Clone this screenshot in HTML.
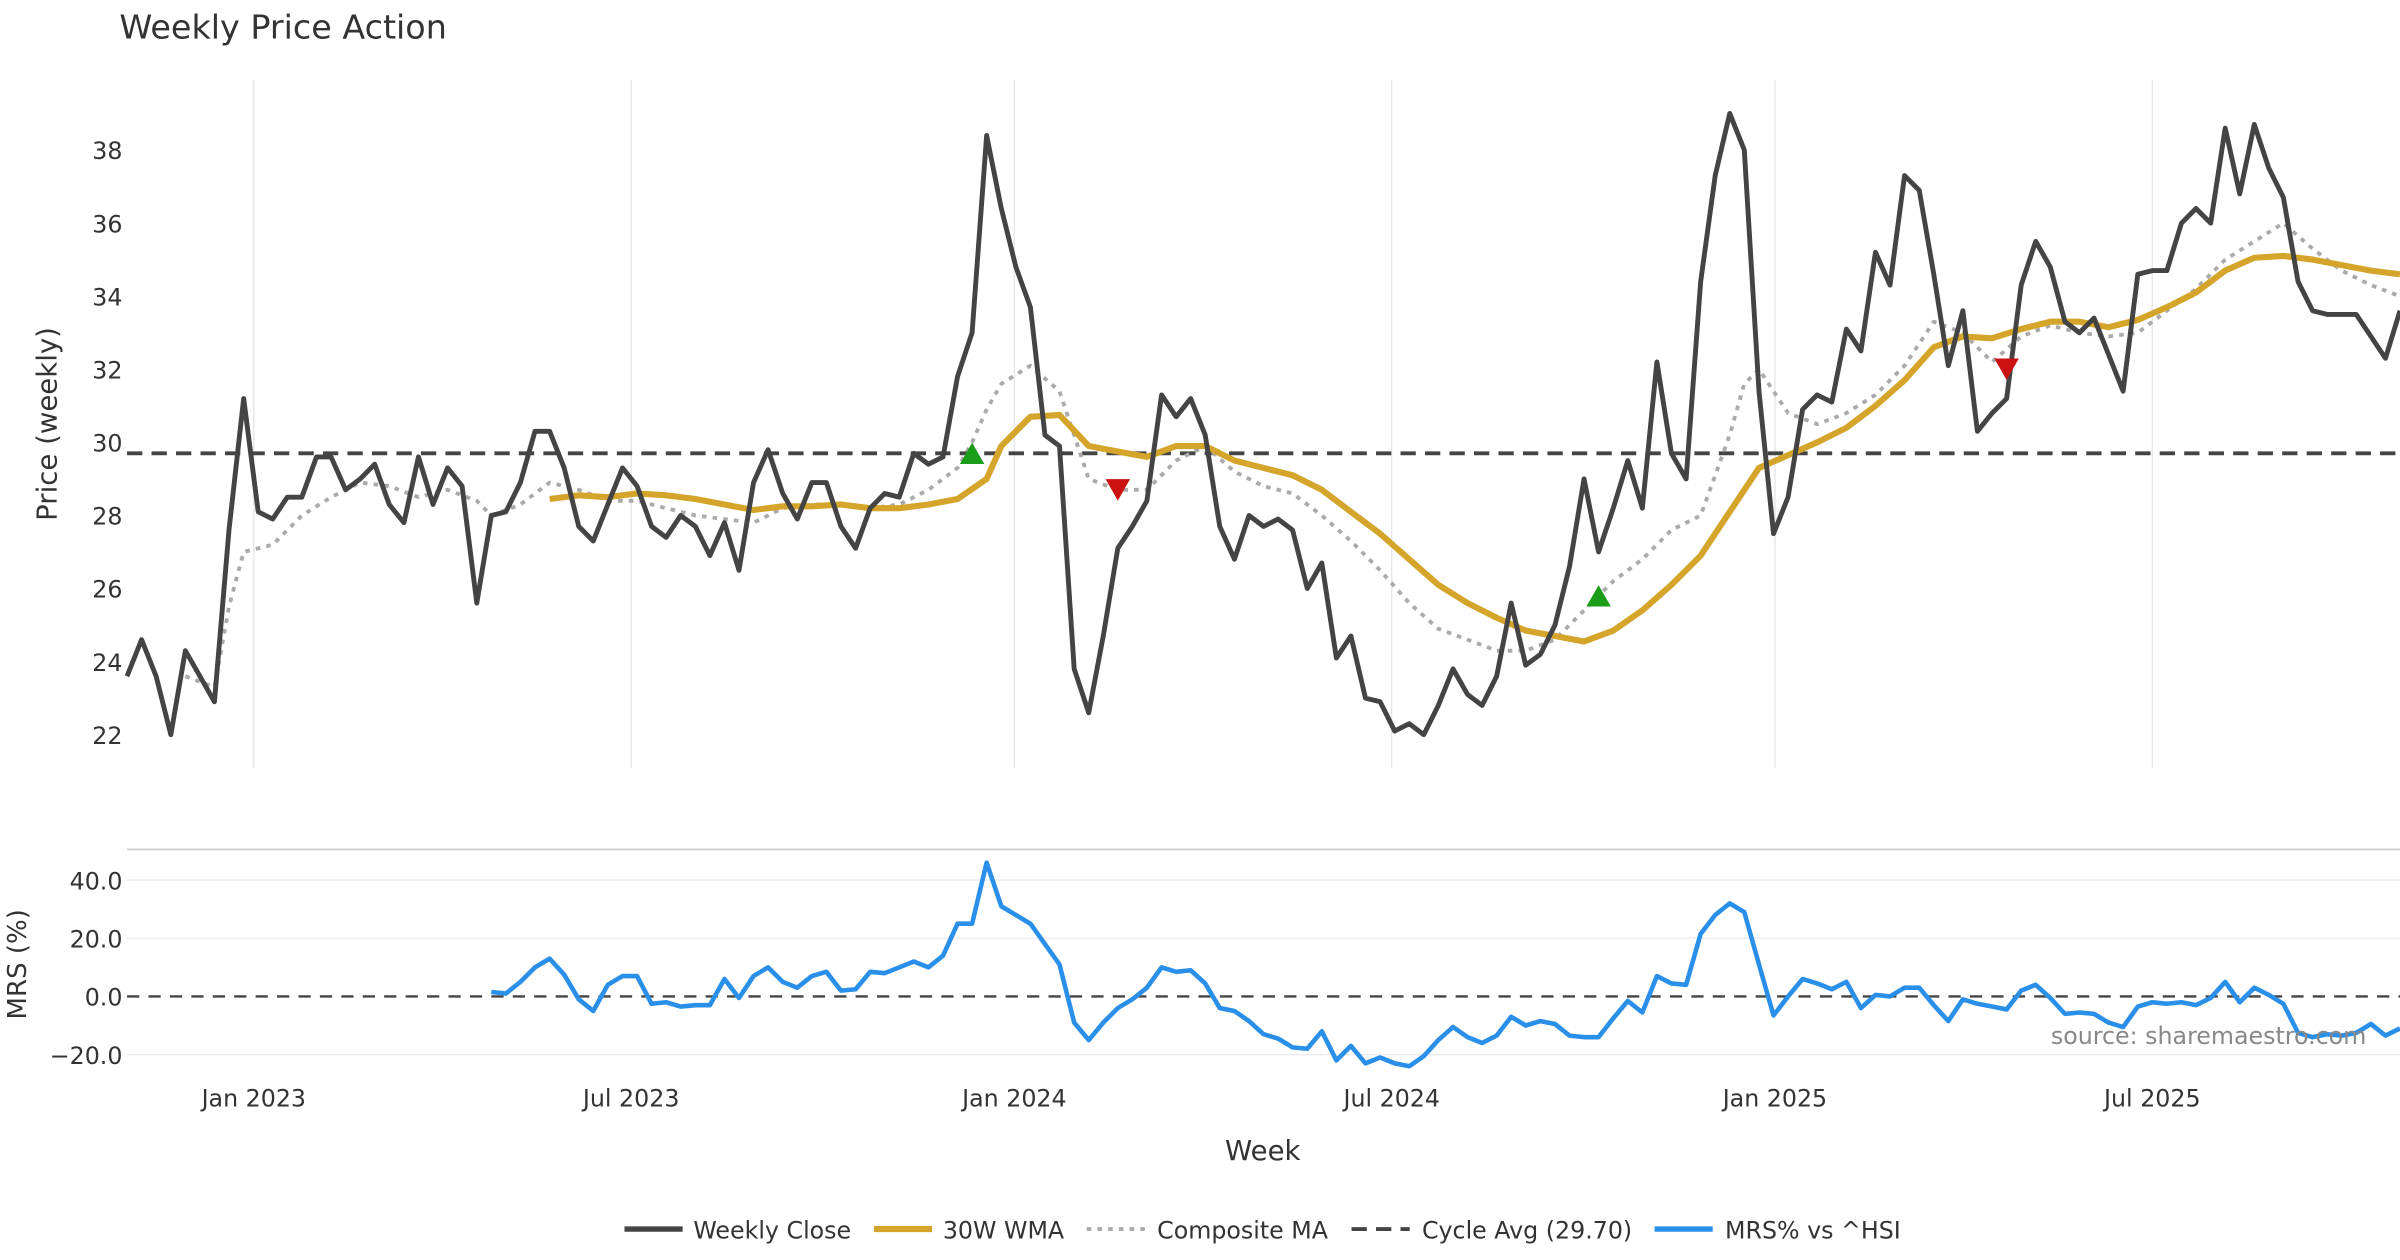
<!DOCTYPE html>
<html><head><meta charset="utf-8"><style>
html,body{margin:0;padding:0;background:#fff;}
svg{display:block;font-family:"DejaVu Sans","Liberation Sans",sans-serif;}
</style></head><body>
<svg id="chart" width="2400" height="1260" viewBox="0 0 1568 823.2" xmlns="http://www.w3.org/2000/svg">
<rect x="0" y="0" width="1568" height="823.2" fill="#fff"/>
<text x="78" y="25" font-size="21.8" fill="#333">Weekly Price Action</text>
<g id="top-grid"></g>
<g id="top-yticks"></g>
<text transform="translate(37,277) rotate(-90)" text-anchor="middle" font-size="18" fill="#333">Price (weekly)</text>
<line x1="83" y1="555" x2="1568" y2="555" stroke="#ccc" stroke-width="1.2"/>
<g id="bot-grid"></g>
<text transform="translate(17,630) rotate(-90)" text-anchor="middle" font-size="17" fill="#333">MRS (%)</text>
<g id="xticks"></g>
<text x="825" y="758" text-anchor="middle" font-size="18" fill="#333">Week</text>
<g id="series"></g>
<text x="1546" y="682" text-anchor="end" font-size="15.5" fill="#888">source: sharemaestro.com</text>
<g id="legend">
<line x1="408" y1="803" x2="446" y2="803" stroke="#444" stroke-width="3.5"/>
<text x="453" y="809" font-size="15.5" fill="#333">Weekly Close</text>
<line x1="571" y1="803" x2="609" y2="803" stroke="#d4a52a" stroke-width="4"/>
<text x="616" y="809" font-size="15.5" fill="#333">30W WMA</text>
<line x1="710" y1="803" x2="748" y2="803" stroke="#aaa" stroke-width="2.5" stroke-dasharray="3,4"/>
<text x="756" y="809" font-size="15.5" fill="#333">Composite MA</text>
<line x1="883" y1="803" x2="921" y2="803" stroke="#444" stroke-width="2.5" stroke-dasharray="10,6"/>
<text x="929" y="809" font-size="15.5" fill="#333">Cycle Avg (29.70)</text>
<line x1="1081" y1="803" x2="1119" y2="803" stroke="#2a8fe8" stroke-width="3.5"/>
<text x="1127" y="809" font-size="15.5" fill="#333">MRS% vs ^HSI</text>
</g>
</svg>
<script>
const closeVals=[23.6,24.6,23.6,22.0,24.3,23.6,22.9,27.6,31.2,28.1,27.9,28.5,28.5,29.6,29.6,28.7,29.0,29.4,28.3,27.8,29.6,28.3,29.3,28.8,25.6,28.0,28.1,28.9,30.3,30.3,29.3,27.7,27.3,28.3,29.3,28.8,27.7,27.4,28.0,27.7,26.9,27.8,26.5,28.9,29.8,28.6,27.9,28.9,28.9,27.7,27.1,28.2,28.6,28.5,29.7,29.4,29.6,31.8,33.0,38.4,36.4,34.8,33.7,30.2,29.9,23.8,22.6,24.7,27.1,27.7,28.4,31.3,30.7,31.2,30.2,27.7,26.8,28.0,27.7,27.9,27.6,26.0,26.7,24.1,24.7,23.0,22.9,22.1,22.3,22.0,22.8,23.8,23.1,22.8,23.6,25.6,23.9,24.2,25.0,26.6,29.0,27.0,28.2,29.5,28.2,32.2,29.7,29.0,34.4,37.3,39.0,38.0,31.4,27.5,28.5,30.9,31.3,31.1,33.1,32.5,35.2,34.3,37.3,36.9,34.6,32.1,33.6,30.3,30.8,31.2,34.3,35.5,34.8,33.3,33.0,33.4,32.4,31.4,34.6,34.7,34.7,36.0,36.4,36.0,38.6,36.8,38.7,37.5,36.7,34.4,33.6,33.5,33.5,33.5,32.9,32.3,33.6];
const wmaIdx=[29,31,33,35,37,39,41,43,45,47,49,51,53,55,57,59,60,62,64,66,68,70,72,74,76,78,80,82,84,86,88,90,92,94,96,98,100,102,104,106,108,110,112,114,116,118,120,122,124,126,128,130,132,134,136,138,140,142,144,146,148,150,152,154,156];
const wmaVals=[28.45,28.55,28.5,28.6,28.55,28.45,28.3,28.15,28.25,28.25,28.3,28.2,28.2,28.3,28.45,29.0,29.9,30.7,30.75,29.9,29.75,29.6,29.9,29.9,29.5,29.3,29.1,28.7,28.1,27.5,26.8,26.1,25.6,25.2,24.85,24.7,24.55,24.85,25.4,26.1,26.9,28.1,29.3,29.65,30.0,30.4,31.0,31.7,32.6,32.9,32.85,33.1,33.3,33.3,33.15,33.35,33.7,34.1,34.7,35.05,35.1,35.0,34.85,34.7,34.6];
const compIdx=[4,6,7,8,10,12,14,16,18,20,22,24,25,27,29,31,33,35,37,39,41,43,45,47,49,51,53,55,57,58,59,60,62,64,66,68,70,72,74,76,78,80,82,84,86,88,90,92,94,96,98,100,102,104,106,108,110,111,112,114,116,118,120,122,124,126,128,130,132,134,136,138,140,142,144,146,148,150,152,154,156];
const compVals=[23.6,23.3,25.5,27.0,27.2,28.0,28.5,28.9,28.8,28.5,28.7,28.4,28.0,28.3,28.9,28.7,28.4,28.4,28.2,28.0,27.9,27.8,28.2,28.3,28.3,28.2,28.3,28.7,29.3,30.0,30.9,31.6,32.1,31.4,29.0,28.7,28.7,29.5,29.9,29.2,28.8,28.6,28.0,27.3,26.5,25.6,24.9,24.6,24.3,24.3,24.6,25.4,26.2,26.8,27.6,28.0,30.2,31.6,32.0,30.8,30.5,30.8,31.3,32.1,33.3,33.0,32.2,32.9,33.2,33.0,32.9,33.0,33.6,34.2,35.0,35.5,36.0,35.3,34.7,34.3,34.0];
const mrsStart=25;
const mrsVals=[1.5,1.0,5,10,13,7.5,-1,-5,4,7,7,-2.5,-2,-3.5,-3,-3,6,-0.5,7,10,5,3,7,8.5,2,2.5,8.5,8,10,12,10,14,25,25,46,31,28,25,18,11,-9,-15,-9,-4,-1,3,10,8.5,9,4.5,-4,-5,-8.5,-13,-14.5,-17.5,-18,-12,-22,-17,-23,-21,-23,-24,-20.5,-15,-10.5,-14,-16,-13.5,-7,-10,-8.5,-9.5,-13.5,-14,-14,-7.5,-1.5,-5.5,7,4.5,4,21.5,28,32,29,11,-6.5,0,6,4.5,2.5,5,-4,0.5,0,3,3,-3,-8.5,-1,-2.5,-3.5,-4.5,2,4,-0.5,-6,-5.5,-6,-9,-10.5,-3.5,-2,-2.5,-2,-3,-0.5,5,-2,3,0.5,-2.5,-12.5,-14,-13,-13.5,-12.5,-9.5,-13.5,-11];
const buyIdx=[58,101];
const buyVals=[29.7,25.8];
const sellIdx=[68,129];
const sellVals=[28.7,32.0];
const cycleAvg=29.70;
const priceTicks=[22,24,26,28,30,32,34,36,38];
const mrsTicks=[40,20,0,-20];
const mrsTickLabels=["40.0","20.0","0.0","\u221220.0"];
const dateTicks=["Jan 2023","Jul 2023","Jan 2024","Jul 2024","Jan 2025","Jul 2025"];
const dateTickWeeks=[8.7,34.6,60.9,86.8,113.1,139.0];

const NS="http://www.w3.org/2000/svg";
const X0=83,X1=1568,N=closeVals.length;
const xs=i=>X0+i*(X1-X0)/(N-1);
const yp=v=>480-(v-22)*23.875;
const ym=v=>651-v*1.9;
function mk(tag,attrs,parent){const e=document.createElementNS(NS,tag);for(const k in attrs)e.setAttribute(k,attrs[k]);parent.appendChild(e);return e;}
const G=id=>document.getElementById(id);

dateTickWeeks.forEach((w,k)=>{
  const l=mk('line',{x1:xs(w),x2:xs(w),y1:52,y2:502,stroke:'#e8e8ec','stroke-width':1},G('top-grid'));
  
  
  const t=mk('text',{x:xs(w),y:723,'text-anchor':'middle','font-size':15.5,fill:'#333'},G('xticks'));
  t.textContent=dateTicks[k];
  
  
});
priceTicks.forEach(v=>{
  const t=mk('text',{x:80,y:yp(v)+6,'text-anchor':'end','font-size':15.5,fill:'#333'},G('top-yticks'));
  t.textContent=v;
  
  
});
mrsTicks.forEach((v,k)=>{
  if(v!==0){const l=mk('line',{x1:X0,x2:X1,y1:ym(v),y2:ym(v),stroke:'#ececf0','stroke-width':1},G('bot-grid'));
  
  }
  const t=mk('text',{x:80,y:ym(v)+6,'text-anchor':'end','font-size':15.5,fill:'#333'},G('bot-grid'));
  t.textContent=mrsTickLabels[k];
  
  
});
const zl=mk('line',{x1:X0,x2:X1,y1:ym(0),y2:ym(0),stroke:'#444','stroke-width':1.5,'stroke-dasharray':'8,6'},G('bot-grid'));



const S=G('series');
const ca=mk('line',{x1:X0,x2:X1,y1:yp(cycleAvg),y2:yp(cycleAvg),stroke:'#444','stroke-width':2.5,'stroke-dasharray':'10,6'},S);


function poly(pts,attrs){return mk('polyline',Object.assign({points:pts.map(p=>p[0].toFixed(1)+','+p[1].toFixed(1)).join(' '),fill:'none','stroke-linejoin':'round'},attrs),S);}
const cm=poly(compIdx.map((i,k)=>[xs(i),yp(compVals[k])]),{stroke:'#aaa','stroke-width':2.5,'stroke-dasharray':'3,4'});


const wm=poly(wmaIdx.map((i,k)=>[xs(i),yp(wmaVals[k])]),{stroke:'#d4a52a','stroke-width':4});


const cl=poly(closeVals.map((v,i)=>[xs(i),yp(v)]),{stroke:'#444','stroke-width':3.2});


const mr=poly(mrsVals.map((v,k)=>[xs(mrsStart+k),ym(v)]),{stroke:'#2a8fe8','stroke-width':3});


buyIdx.forEach((i,k)=>{const x=xs(i),y=yp(buyVals[k]);
  const p=mk('polygon',{points:`${x-8},${y+7} ${x+8},${y+7} ${x},${y-7}`,fill:'#1a9e1a'},S);
  
  });
sellIdx.forEach((i,k)=>{const x=xs(i),y=yp(sellVals[k]);
  const p=mk('polygon',{points:`${x-8},${y-7} ${x+8},${y-7} ${x},${y+7}`,fill:'#cc1111'},S);
  
  });
</script>
</body></html>
